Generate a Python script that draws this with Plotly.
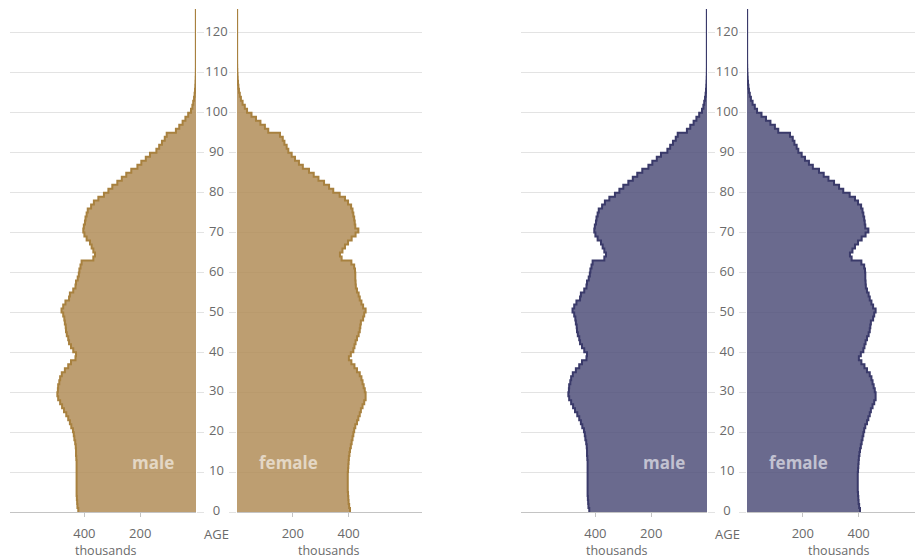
import plotly.graph_objects as go

# page body has an 8px margin, so the figure sits at (8, 8) in the window
OFF = 8
W, H = 923 - OFF, 558 - OFF

ages = list(range(0, 126))

male = [422, 425, 426, 427, 428, 428, 428, 428, 428, 428,
        428, 428, 428, 429, 430, 430, 431, 433, 436, 438,
        441, 447, 452, 458, 465, 473, 480, 487, 494, 497,
        495, 494, 490, 487, 481, 470, 458, 448, 432, 430,
        440, 448, 455, 458, 463, 466, 467, 470, 472, 476,
        482, 476, 468, 455, 452, 440, 432, 430, 424, 420,
        418, 414, 410, 368, 362, 368, 374, 380, 392, 400,
        404, 402, 398, 396, 392, 388, 376, 366, 350, 330,
        314, 300, 282, 266, 250, 232, 210, 196, 180, 165,
        142, 132, 122, 112, 105, 72, 60, 48, 38, 28,
        18, 13, 10, 7, 5, 3.5, 2.5, 1.8, 1.2, 0.8,
        0.6, 0.5, 0.5, 0.5, 0.5, 0.5, 0.5, 0.5, 0.5, 0.5,
        0.5, 0.5, 0.5, 0.5, 0.5, 0.5]

female = [405, 402, 400, 399, 398, 397, 397, 397, 397, 397,
          398, 399, 400, 401, 403, 405, 408, 411, 414, 417,
          420, 424, 430, 435, 440, 444, 450, 456, 461, 461,
          458, 454, 450, 446, 440, 430, 421, 410, 401, 408,
          417, 421, 425, 430, 436, 440, 442, 444, 452, 456,
          461, 452, 446, 440, 436, 430, 426, 425, 424, 424,
          423, 420, 410, 375, 369, 378, 387, 398, 411, 425,
          435, 424, 422, 420, 417, 414, 409, 398, 387, 368,
          345, 330, 312, 292, 275, 258, 236, 222, 208, 196,
          184, 178, 170, 164, 154, 112, 100, 84, 68, 52,
          36, 28, 20, 14, 10, 7, 5, 3.5, 2.5, 1.8,
          1.2, 0.8, 0.6, 0.5, 0.5, 0.5, 0.5, 0.5, 0.5, 0.5,
          0.5, 0.5, 0.5, 0.5, 0.5, 0.5]

age_ticks = list(range(0, 121, 10))
value_ticks = [200, 400]

panels = [
    dict(fill="rgba(176,140,86,0.84)", line="#a8813f"),
    dict(fill="rgba(78,78,120,0.84)", line="#3a3a6a"),
]

# pixel layout (window coordinates minus the page offset)
PX = 0.279  # px per thousand
Y0 = 512 - OFF
PX_Y = 3.992  # px per year
YMAX = Y0 / PX_Y  # plot area runs up to the top of the figure
panel_geo = [
    dict(left=10 - OFF, mz=196 - OFF, fz=237 - OFF, right=422 - OFF),
    dict(left=521 - OFF, mz=707 - OFF, fz=747 - OFF, right=923 - OFF),
]

GRID = "#e3e3e3"
AXLINE = "#c4c4c4"
TXT = "#6a6a6a"
FONT = "Open Sans, Noto Sans, sans-serif"

fig = go.Figure()
layout = dict(
    width=W, height=H,
    margin=dict(l=0, r=0, t=0, b=0),
    paper_bgcolor="white", plot_bgcolor="rgba(0,0,0,0)",
    showlegend=False,
    font=dict(family=FONT, color=TXT, size=13),
)
annotations = []
ydom = [(H - Y0) / H, 1]


def step_xy(vals):
    ys = list(ages) + [ages[-1] + 1]
    xs = list(vals) + [vals[-1]]
    return xs, ys


def sx(i):
    return "x" if i == 1 else f"x{i}"


def sy(i):
    return "y" if i == 1 else f"y{i}"


def kx(i):
    return "xaxis" if i == 1 else f"xaxis{i}"


def ky(i):
    return "yaxis" if i == 1 else f"yaxis{i}"


idx = 1
for p, geo in zip(panels, panel_geo):
    im, iff, ic = idx, idx + 1, idx + 2
    idx += 3

    mrange = (geo["mz"] - geo["left"]) / PX
    frange = (geo["right"] - geo["fz"]) / PX

    xs, ys = step_xy(male)
    fig.add_trace(go.Scatter(x=xs, y=ys, mode="lines", line_shape="vh",
                             fill="tozerox", fillcolor=p["fill"],
                             line=dict(color=p["line"], width=2),
                             xaxis=sx(im), yaxis=sy(im), hoverinfo="skip"))
    xs, ys = step_xy(female)
    fig.add_trace(go.Scatter(x=xs, y=ys, mode="lines", line_shape="vh",
                             fill="tozerox", fillcolor=p["fill"],
                             line=dict(color=p["line"], width=2),
                             xaxis=sx(iff), yaxis=sy(iff), hoverinfo="skip"))
    fig.add_trace(go.Scatter(x=[0.5] * len(age_ticks), y=age_ticks, mode="text",
                             text=[str(a) for a in age_ticks],
                             textposition="middle center",
                             textfont=dict(size=13, color=TXT, family=FONT),
                             cliponaxis=False,
                             xaxis=sx(ic), yaxis=sy(ic), hoverinfo="skip"))

    common_x = dict(showgrid=False, zeroline=False, showline=True,
                    linecolor=AXLINE, linewidth=1, ticks="outside",
                    ticklen=4, tickcolor=AXLINE, tickvals=value_ticks,
                    tickfont=dict(size=13, color=TXT, family=FONT),
                    ticklabelstandoff=5, fixedrange=True)
    layout[kx(im)] = dict(common_x, domain=[geo["left"] / W, geo["mz"] / W],
                          range=[mrange, 0], anchor=sy(im))
    layout[kx(iff)] = dict(common_x, domain=[geo["fz"] / W, min(geo["right"] / W, 1)],
                           range=[0, frange], anchor=sy(iff))
    layout[kx(ic)] = dict(domain=[geo["mz"] / W, geo["fz"] / W], range=[0, 1],
                          visible=False, anchor=sy(ic), fixedrange=True)

    common_y = dict(domain=ydom, range=[0, YMAX], tickvals=age_ticks,
                    showgrid=True, gridcolor=GRID, gridwidth=1,
                    zeroline=False, showticklabels=False,
                    ticks="outside", ticklen=7, tickcolor=GRID,
                    fixedrange=True)
    layout[ky(im)] = dict(common_y, anchor=sx(im), side="right")
    layout[ky(iff)] = dict(common_y, anchor=sx(iff), side="left")
    layout[ky(ic)] = dict(domain=ydom, range=[0, YMAX], visible=False,
                          anchor=sx(ic), fixedrange=True)

    # in-chart labels
    lab_font = dict(size=17, color="rgba(255,255,255,0.6)", family=FONT)
    annotations.append(dict(x=154, y=12.5, xref=sx(im), yref=sy(im),
                            text="<b>male</b>", showarrow=False, font=lab_font))
    annotations.append(dict(x=186, y=12.5, xref=sx(iff), yref=sy(iff),
                            text="<b>female</b>", showarrow=False, font=lab_font))
    # bottom texts
    annotations.append(dict(x=0.5, xref=sx(ic), y=(H - (534 - OFF)) / H, yref="paper",
                            yanchor="middle",
                            text="AGE", showarrow=False,
                            font=dict(size=13, color=TXT, family=FONT)))
    annotations.append(dict(x=(geo["mz"] - 400 * PX - 11) / W, xref="paper",
                            y=(H - (550 - OFF)) / H, yref="paper", xanchor="left",
                            yanchor="middle",
                            text="thousands", showarrow=False,
                            font=dict(size=12.5, color=TXT, family=FONT)))
    annotations.append(dict(x=(geo["fz"] + 400 * PX + 13) / W, xref="paper",
                            y=(H - (550 - OFF)) / H, yref="paper", xanchor="right",
                            yanchor="middle",
                            text="thousands", showarrow=False,
                            font=dict(size=12.5, color=TXT, family=FONT)))

layout["annotations"] = annotations
fig.update_layout(**layout)
fig.write_html("out.html")
